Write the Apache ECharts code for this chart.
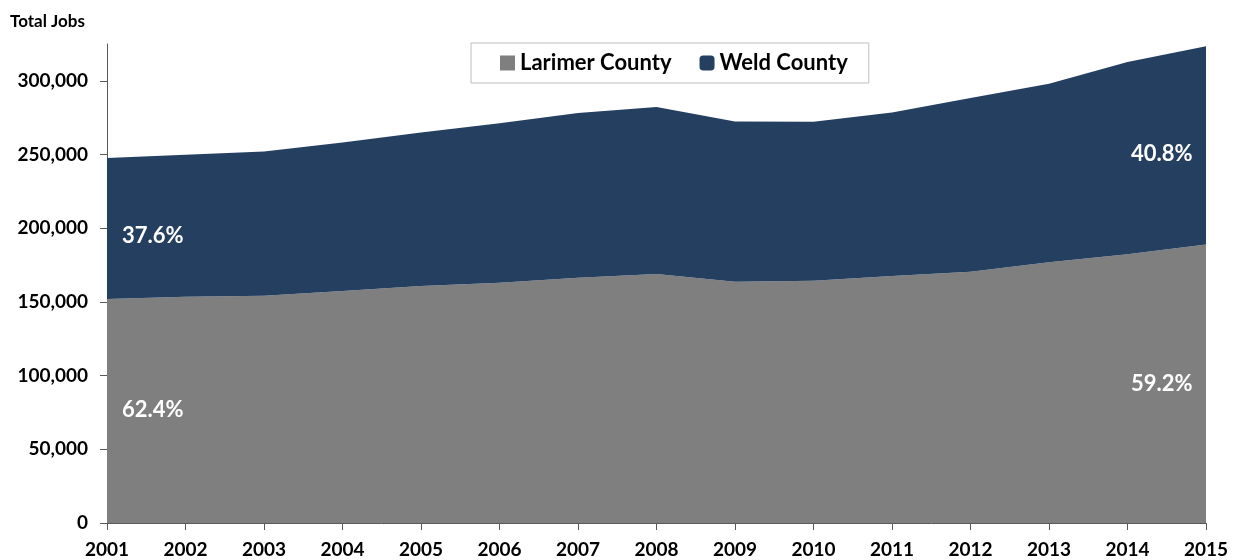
<!DOCTYPE html>
<html>
<head>
<meta charset="utf-8">
<script src="https://cdn.jsdelivr.net/npm/echarts@6/dist/echarts.min.js"></script>
<style>
  html, body { margin: 0; padding: 0; background: #fff; }
  #chart { width: 1243px; height: 560px; }
</style>
</head>
<body>
<div id="chart"></div>
<script>
// data
const years = ['2001', '2002', '2003', '2004', '2005', '2006', '2007', '2008',
  '2009', '2010', '2011', '2012', '2013', '2014', '2015'];
const larimer = [152000, 153500, 154200, 157400, 160800, 163000, 166400, 169000,
  163700, 164400, 167600, 170500, 176900, 182300, 189000];
const weld = [95600, 96300, 97800, 100800, 104100, 108300, 111700, 113200,
  108700, 107800, 110900, 117800, 121100, 130500, 134400];
const yTicks = [0, 50000, 100000, 150000, 200000, 250000, 300000];
const shareLabels = ['62.4%', '37.6%', '40.8%', '59.2%'];

const font = 'Lato, "Open Sans", sans-serif';
const axisColor = '#595959';

const chart = echarts.init(document.getElementById('chart'));
const option = {
  animation: false,
  textStyle: { fontFamily: font },
  grid: { left: 107, right: 37, top: 44, bottom: 37 },
  legend: {
    left: 471,
    top: 43,
    padding: [9, 21, 9, 29],
    itemGap: 28,
    itemWidth: 15,
    itemHeight: 15,
    borderColor: '#bfbfbf',
    borderWidth: 1,
    textStyle: { fontFamily: font, fontSize: 22, fontWeight: 'bold', color: '#000' },
    data: [
      { name: 'Larimer County', icon: 'rect' },
      { name: 'Weld County', icon: 'roundRect' }
    ]
  },
  xAxis: {
    type: 'category',
    boundaryGap: false,
    data: years,
    axisLine: { lineStyle: { color: axisColor, width: 1 } },
    axisTick: { show: true, length: 7, alignWithLabel: true, lineStyle: { color: axisColor } },
    axisLabel: { margin: 17, fontSize: 19, fontWeight: 'bold', color: '#000', fontFamily: font }
  },
  yAxis: {
    type: 'value',
    min: 0,
    max: 325000,
    interval: 50000,
    splitLine: { show: false },
    axisLine: { show: true, lineStyle: { color: axisColor, width: 1 } },
    axisTick: { show: true, length: 7, lineStyle: { color: axisColor }, customValues: yTicks },
    axisLabel: {
      margin: 19, fontSize: 19, fontWeight: 'bold', color: '#000', fontFamily: font,
      customValues: yTicks,
      formatter: v => v.toLocaleString('en-US')
    }
  },
  series: [
    {
      name: 'Larimer County',
      type: 'line',
      stack: 'total',
      data: larimer,
      showSymbol: false,
      lineStyle: { width: 0 },
      itemStyle: { color: '#7f7f7f' },
      areaStyle: { color: '#7f7f7f', opacity: 1 }
    },
    {
      name: 'Weld County',
      type: 'line',
      stack: 'total',
      data: weld,
      showSymbol: false,
      lineStyle: { width: 0 },
      itemStyle: { color: '#253f60' },
      areaStyle: { color: '#253f60', opacity: 1 }
    }
  ],
  graphic: [
    {
      type: 'text', left: 10, top: 13, z: 100,
      style: { text: 'Total Jobs', font: 'bold 17px ' + font, fill: '#000' }
    },
    {
      type: 'text', left: 122, top: 399, z: 100,
      style: { text: shareLabels[0], font: 'bold 22px ' + font, fill: '#fff' }
    },
    {
      type: 'text', left: 122, top: 225, z: 100,
      style: { text: shareLabels[1], font: 'bold 22px ' + font, fill: '#fff' }
    },
    {
      type: 'text', left: 1131, top: 143, z: 100,
      style: { text: shareLabels[2], font: 'bold 22px ' + font, fill: '#fff' }
    },
    {
      type: 'text', left: 1131, top: 373, z: 100,
      style: { text: shareLabels[3], font: 'bold 22px ' + font, fill: '#fff' }
    }
  ]
};
chart.setOption(option);
</script>
</body>
</html>
